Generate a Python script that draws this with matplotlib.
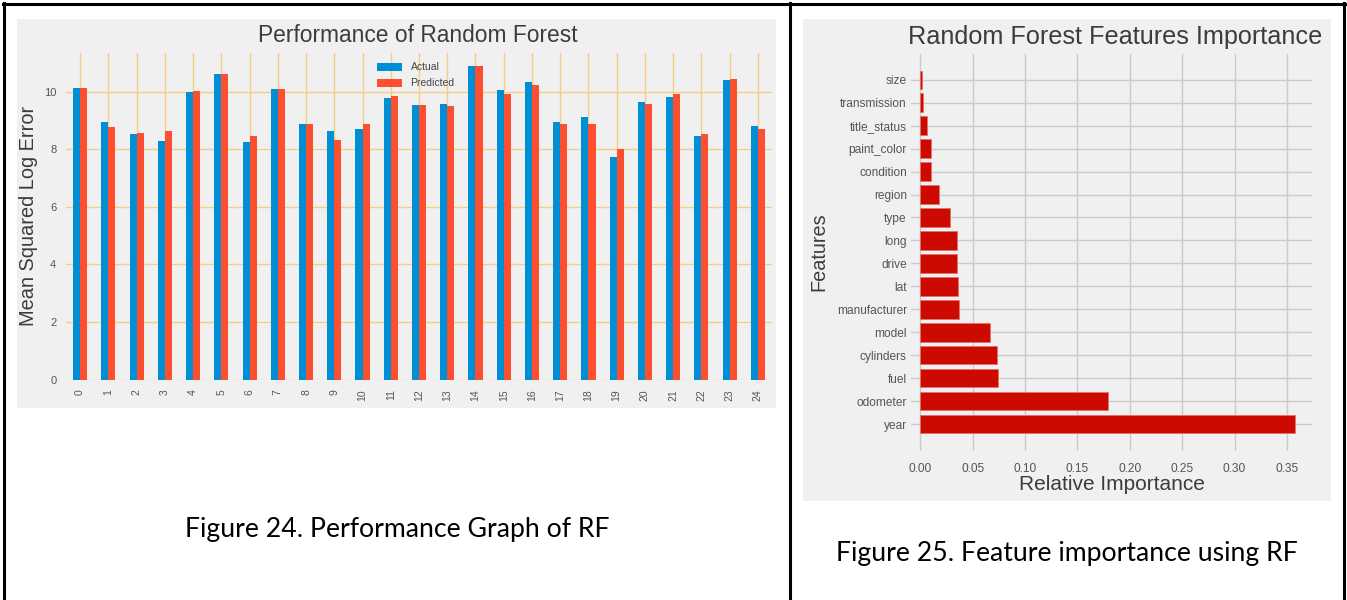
import numpy as np
import matplotlib
matplotlib.use("Agg")
import matplotlib.pyplot as plt
from matplotlib.patches import Rectangle
from matplotlib.lines import Line2D

# data
samples = list(range(25))
actual = [10.12, 8.95, 8.52, 8.27, 9.98, 10.60, 8.24, 10.08, 8.86, 8.63, 8.71, 9.77, 9.54,
          9.58, 10.87, 10.05, 10.32, 8.95, 9.11, 7.73, 9.62, 9.81, 8.44, 10.39, 8.79]
predicted = [10.12, 8.78, 8.55, 8.63, 10.01, 10.60, 8.47, 10.08, 8.86, 8.32, 8.86, 9.85, 9.54,
             9.50, 10.87, 9.93, 10.21, 8.86, 8.86, 8.00, 9.58, 9.93, 8.52, 10.44, 8.71]

features = ['year', 'odometer', 'fuel', 'cylinders', 'model', 'manufacturer', 'lat', 'drive',
            'long', 'type', 'region', 'condition', 'paint_color', 'title_status',
            'transmission', 'size']
importance = [0.358, 0.179, 0.074, 0.073, 0.066, 0.037, 0.036, 0.035, 0.035, 0.028, 0.018,
              0.010, 0.010, 0.0063, 0.0027, 0.0017]

W, H = 1347, 600
plt.rcParams['font.family'] = ['Liberation Sans', 'DejaVu Sans']

fig = plt.figure(figsize=(W / 100, H / 100), dpi=100)
fig.patch.set_facecolor('white')


def box(l, t, r, b):
    return [l / W, 1 - b / H, (r - l) / W, (b - t) / H]


def px(x, y):
    return x / W, 1 - y / H


bg = '#f0f0f0'
# grey panels behind the two charts
fig.add_artist(Rectangle(px(17, 408), 759 / W, 389 / H, transform=fig.transFigure,
                         facecolor=bg, edgecolor='none', zorder=0))
fig.add_artist(Rectangle(px(803, 501), 528 / W, 482 / H, transform=fig.transFigure,
                         facecolor=bg, edgecolor='none', zorder=0))

# table borders
for xs, ys in [((4, 4), (3, 600)), ((790, 790), (3, 600)), ((1344, 1344), (3, 600)),
               ((3, 1345), (4, 4))]:
    fig.add_artist(Line2D([x / W for x in xs], [1 - y / H for y in ys],
                          transform=fig.transFigure, color='black', lw=2.2, zorder=5))

# ---------- left: performance ----------
ax1 = fig.add_axes(box(66, 53.2, 772, 379.5))
ax1.set_facecolor(bg)
x = np.arange(len(samples))
ax1.bar(x - 0.125, actual, width=0.25, color='#008fd5', label='Actual', zorder=3)
ax1.bar(x + 0.125, predicted, width=0.25, color='#fc4f30', label='Predicted', zorder=3)
ax1.set_xlim(-0.5, 24.5)
ax1.set_ylim(0, 11.33)
ax1.set_xticks(x)
ax1.set_xticklabels([str(s) for s in samples], rotation=90, fontsize=7.5, color='#555555')
ax1.set_yticks([0, 2, 4, 6, 8, 10])
ax1.tick_params(axis='y', labelsize=8, colors='#555555')
ax1.tick_params(length=0, pad=7)
ax1.grid(True, color='#f7cd85', lw=1, zorder=0)
for s in ax1.spines.values():
    s.set_visible(False)
ax1.set_ylabel('Mean Squared Log Error', fontsize=14.4, color='#3c3c3c', labelpad=4)
fig.text(*px(418, 36), 'Performance of Random Forest', fontsize=16.4, color='#3c3c3c',
         ha='center', va='center')
ax1.legend(loc='upper left', bbox_to_anchor=px(372, 57), bbox_transform=fig.transFigure,
           frameon=False, fontsize=7.5, handlelength=2.4, handleheight=0.8,
           labelspacing=0.6, borderpad=0, labelcolor='#444444')

# ---------- right: feature importance ----------
ax2 = fig.add_axes(box(911, 53.6, 1312, 450.7))
ax2.set_facecolor(bg)
y = np.arange(len(features))
ax2.barh(y, importance, height=0.8, color='#cc0a00', edgecolor='#e4736c', lw=0.6, zorder=3)
ax2.set_xlim(-0.009, 0.374)
ax2.set_ylim(-1.154, 16.136)
ax2.set_yticks(y)
ax2.set_yticklabels(features, fontsize=8.6, color='#555555')
ax2.set_xticks(np.arange(0, 0.351, 0.05))
ax2.set_xticklabels(['%.2f' % v for v in np.arange(0, 0.351, 0.05)], fontsize=8.6,
                    color='#555555')
ax2.tick_params(length=0)
ax2.tick_params(axis='x', pad=9)
ax2.tick_params(axis='y', pad=3)
ax2.grid(True, color='#cbcbcb', lw=1, zorder=0)
for s in ax2.spines.values():
    s.set_visible(False)
ax2.set_xlabel('Relative Importance', fontsize=15, color='#3c3c3c', labelpad=0)
ax2.set_ylabel('Features', fontsize=14.3, color='#3c3c3c', labelpad=6)
fig.text(*px(1115, 37), 'Random Forest Features Importance', fontsize=18.2, color='#3c3c3c',
         ha='center', va='center')

# captions
fig.text(*px(397, 530), 'Figure 24. Performance Graph of RF', fontsize=19.2,
         family=['Lato', 'DejaVu Sans'], ha='center', va='center', color='black')
fig.text(*px(1067, 553), 'Figure 25. Feature importance using RF', fontsize=19.2,
         family=['Lato', 'DejaVu Sans'], ha='center', va='center', color='black')

fig.savefig('out.png', dpi=100, facecolor='white')
